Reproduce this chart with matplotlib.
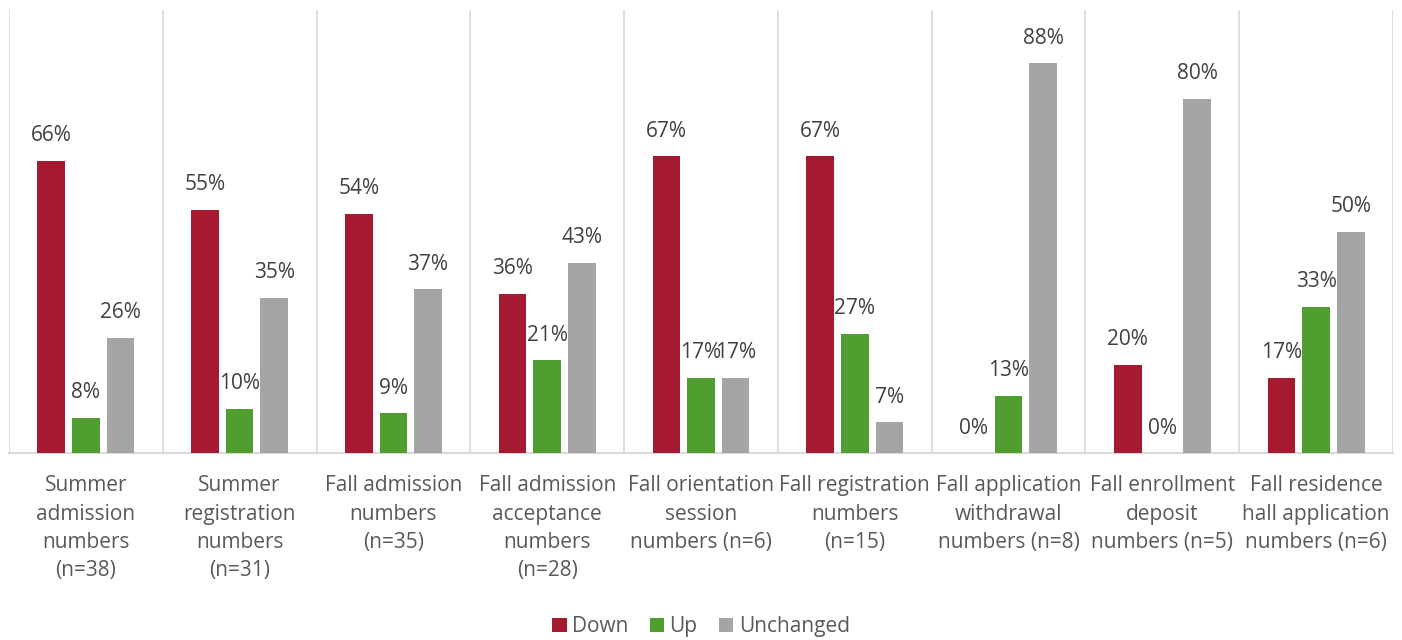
import numpy as np
import matplotlib.pyplot as plt

plt.rcParams['font.family'] = ['Open Sans', 'DejaVu Sans']

categories = ['Summer\nadmission\nnumbers\n(n=38)',
              'Summer\nregistration\nnumbers\n(n=31)',
              'Fall admission\nnumbers\n(n=35)',
              'Fall admission\nacceptance\nnumbers\n(n=28)',
              'Fall orientation\nsession\nnumbers (n=6)',
              'Fall registration\nnumbers\n(n=15)',
              'Fall application\nwithdrawal\nnumbers (n=8)',
              'Fall enrollment\ndeposit\nnumbers (n=5)',
              'Fall residence\nhall application\nnumbers (n=6)']
down = [66, 55, 54, 36, 67, 67, 0, 20, 17]
up = [8, 10, 9, 21, 17, 27, 13, 0, 33]
unchanged = [26, 35, 37, 43, 17, 7, 88, 80, 50]

series = [('Down', down, '#A51931'), ('Up', up, '#509E2F'), ('Unchanged', unchanged, '#A5A5A5')]

fig = plt.figure(figsize=(14.02, 6.4), dpi=100)
ax = fig.add_axes([0.0064, 0.292, 0.9872, 0.692])

x = np.arange(len(categories))
w = 0.18
step = 0.225
for i, (name, vals, col) in enumerate(series):
    pos = x + (i - 1) * step
    ax.bar(pos, vals, w, color=col, label=name, zorder=3)
    for p, v in zip(pos, vals):
        ax.text(p, v + 3.3, f'{v}%', ha='center', va='bottom', fontsize=15, color='#404040')

for b in np.arange(-0.5, len(categories) + 0.5, 1):
    ax.axvline(b, color='#d9d9d9', lw=1.2, zorder=1)

ax.set_xlim(-0.5, len(categories) - 0.5)
ax.set_ylim(0, 100)
ax.set_yticks([])
ax.set_xticks(x)
ax.set_xticklabels(categories, fontsize=15, color='#595959', linespacing=1.45)
ax.tick_params(axis='x', length=0, pad=16)
for s in ['top', 'left', 'right']:
    ax.spines[s].set_visible(False)
ax.spines['bottom'].set_color('#d9d9d9')
ax.spines['bottom'].set_linewidth(1.5)

fig.legend(loc='lower center', bbox_to_anchor=(0.5, -0.025), ncol=3, frameon=False,
           fontsize=15, handlelength=0.68, handleheight=0.68, handletextpad=0.25,
           columnspacing=1.05, labelcolor='#595959')

fig.savefig('out.png', dpi=100)
